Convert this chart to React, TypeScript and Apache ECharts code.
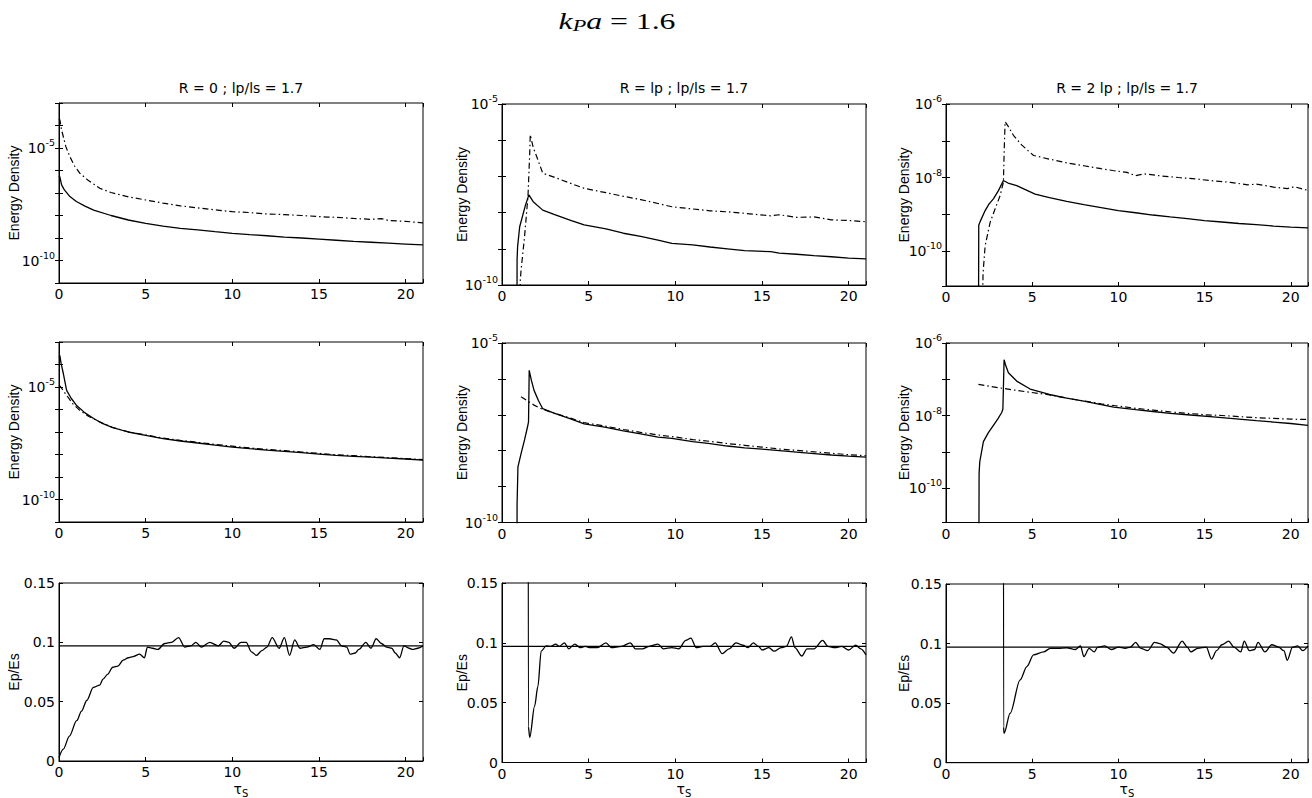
import { useEffect, useRef } from 'react';
import * as echarts from 'echarts';

// ---------------- data ----------------
const T_MAX = 21;
const X_LABEL_STEP = 5;

const MAIN_TITLE = { symbol: 'k', sub: 'P', rest: 'a', value: '1.6' };
const COL_TITLES = ['R = 0 ; lp/ls = 1.7', 'R = lp ; lp/ls = 1.7', 'R = 2 lp ; lp/ls = 1.7'];
const ENERGY_NAME = 'Energy Density';
const RATIO_NAME = 'Ep/Es';

// log-axis ranges per column and the decades that carry a label
const LOG_RANGES: [number, number][] = [[1e-11, 1e-3], [1e-10, 1e-5], [1.12e-11, 1e-6]];
const LOG_LABELS: number[][] = [[-5, -10], [-5, -10], [-6, -8, -10]];
const RATIO_MIN = 0;
const RATIO_MAX = 0.15;
const RATIO_STEP = 0.05;

// Row 1: R = 0
const R0_TOP_SOLID: [number, number][] = [
  [0, 5.8e-7], [0.05, 5.2e-7], [0.15, 2.29e-7], [0.3, 1.41e-7], [0.63, 6.92e-8], [1.0, 4.17e-8],
  [1.5, 2.63e-8], [2.0, 1.74e-8], [3, 1.0e-8], [4, 6.31e-9], [5, 4.47e-9], [6, 3.39e-9], [7, 2.69e-9],
  [8, 2.29e-9], [9, 1.91e-9], [10, 1.62e-9], [11, 1.41e-9], [12, 1.26e-9], [13, 1.1e-9], [14, 1.0e-9],
  [15, 8.91e-10], [16, 7.94e-10], [17, 7.08e-10], [18, 6.46e-10], [19, 5.89e-10], [20, 5.37e-10], [21, 4.9e-10],
];
const R0_TOP_DASH: [number, number][] = [
  [0, 2.0e-4], [0.05, 1.78e-4], [0.15, 6.31e-5], [0.25, 3.16e-5], [0.4, 1.12e-5], [0.63, 4.07e-6],
  [0.9, 1.58e-6], [1.2, 7.59e-7], [1.7, 3.55e-7], [2.35, 1.62e-7], [3, 1.05e-7], [4, 6.76e-8], [5, 4.9e-8],
  [6, 3.55e-8], [7, 2.69e-8], [8, 2.19e-8], [9, 1.78e-8], [10, 1.48e-8], [11, 1.35e-8], [12, 1.17e-8],
  [13, 1.1e-8], [14, 1.0e-8], [15.5, 8.51e-9], [16, 8.32e-9], [17, 7.41e-9], [18, 6.76e-9], [18.6, 7.24e-9],
  [19, 6.03e-9], [20, 5.5e-9], [21, 4.68e-9],
];
// Row 1: R = lp
const R1_TOP_SOLID: [number, number][] = [
  [0.86, 1e-12], [0.87, 5.01e-10], [0.9, 1.15e-9], [1.02, 4.07e-9], [1.2, 8.51e-9], [1.35, 1.58e-8],
  [1.55, 3.09e-8], [1.8, 2.0e-8], [2.35, 1.17e-8], [3, 8.91e-9], [4, 6.03e-9], [4.74, 4.57e-9], [6, 3.55e-9],
  [7, 2.69e-9], [8, 2.19e-9], [9, 1.74e-9], [9.8, 1.41e-9], [11, 1.29e-9], [12, 1.12e-9], [13, 1.0e-9],
  [14, 8.91e-10], [15.5, 8.32e-10], [16, 7.59e-10], [17, 7.08e-10], [18, 6.46e-10], [19, 6.03e-10],
  [20, 5.5e-10], [21, 5.25e-10],
];
const R1_TOP_DASH: [number, number][] = [
  [1.0, 1e-12], [1.05, 1.26e-10], [1.1, 2.57e-10], [1.3, 2.14e-9], [1.5, 2.88e-8], [1.6, 4.47e-7],
  [1.63, 1.41e-6], [1.8, 6.31e-7], [2.0, 3.55e-7], [2.35, 1.23e-7], [3, 9.55e-8], [4, 6.31e-8],
  [4.74, 4.68e-8], [6, 3.55e-8], [7, 2.82e-8], [8, 2.29e-8], [9, 1.78e-8], [9.8, 1.45e-8], [11, 1.26e-8],
  [12, 1.12e-8], [13, 1.05e-8], [14, 9.55e-9], [15.5, 8.13e-9], [16, 8.71e-9], [17, 7.41e-9], [18, 7.59e-9],
  [19, 6.31e-9], [20, 6.03e-9], [21, 5.62e-9],
];
// Row 1: R = 2 lp
const R2_TOP_SOLID: [number, number][] = [
  [1.88, 1e-13], [1.9, 5.01e-10], [1.98, 6.31e-10], [2.27, 1.26e-9], [2.5, 1.91e-9], [2.75, 2.63e-9],
  [3.05, 4.47e-9], [3.33, 8.32e-9], [3.6, 7.08e-9], [4.1, 6.03e-9], [5.17, 3.55e-9], [6, 2.82e-9],
  [7, 2.24e-9], [8, 1.82e-9], [9, 1.51e-9], [10, 1.26e-9], [11, 1.1e-9], [12, 9.55e-10], [13, 8.51e-10],
  [14, 7.59e-10], [15, 6.76e-10], [16, 6.17e-10], [17, 5.62e-10], [18, 5.25e-10], [19, 4.79e-10],
  [20, 4.47e-10], [21, 4.27e-10],
];
const R2_TOP_DASH: [number, number][] = [
  [2.06, 1e-13], [2.15, 2.51e-11], [2.27, 1.38e-10], [2.56, 6.03e-10], [2.85, 1.41e-9], [3.14, 3.24e-9],
  [3.33, 7.41e-9], [3.38, 6.31e-8], [3.43, 3.31e-7], [3.6, 2.51e-7], [3.91, 1.41e-7], [4.4, 7.59e-8],
  [5.08, 3.98e-8], [6, 3.16e-8], [7, 2.51e-8], [8, 2.09e-8], [9, 1.74e-8], [9.67, 1.55e-8], [10.5, 1.38e-8],
  [11, 1.12e-8], [11.5, 1.26e-8], [12.5, 1.1e-8], [13.5, 1.0e-8], [14.5, 9.12e-9], [15.5, 8.13e-9],
  [16.5, 7.41e-9], [17.5, 6.31e-9], [18, 6.61e-9], [19, 5.5e-9], [19.8, 5.01e-9], [20.2, 5.62e-9], [21, 4.47e-9],
];

// Row 2: R = 0
const R0_MID_SOLID: [number, number][] = [
  [0, 2.14e-4], [0.05, 2.51e-4], [0.12, 1.12e-4], [0.25, 3.98e-5], [0.44, 7.08e-6], [0.7, 3.16e-6],
  [1.0, 1.55e-6], [1.5, 7.08e-7], [2, 3.98e-7], [2.5, 2.4e-7], [3.1, 1.58e-7], [4, 1.0e-7], [5, 7.08e-8],
  [6, 5.13e-8], [7, 3.98e-8], [8, 3.24e-8], [9, 2.63e-8], [10, 2.14e-8], [11, 1.82e-8], [12, 1.58e-8],
  [13, 1.38e-8], [14, 1.2e-8], [15, 1.05e-8], [16, 9.12e-9], [17, 8.32e-9], [18, 7.59e-9], [19, 6.92e-9],
  [20, 6.31e-9], [21, 5.62e-9],
];
const R0_MID_DASH: [number, number][] = [
  [0, 1.2e-5], [0.1, 1.0e-5], [0.44, 4.27e-6], [0.8, 1.78e-6], [1.2, 9.12e-7], [1.7, 5.01e-7],
  [2.35, 2.82e-7], [3.1, 1.58e-7], [4, 1.02e-7], [5, 7.41e-8], [6, 5.37e-8], [7, 4.27e-8], [8, 3.47e-8],
  [9, 2.82e-8], [10, 2.34e-8], [11, 1.95e-8], [12, 1.7e-8], [13, 1.48e-8], [14, 1.29e-8], [15, 1.12e-8],
  [16, 9.77e-9], [17, 8.91e-9], [18, 7.94e-9], [19, 7.24e-9], [20, 6.61e-9], [21, 5.89e-9],
];
// Row 2: R = lp
const R1_MID_SOLID: [number, number][] = [
  [0.86, 1e-12], [0.87, 3.16e-10], [0.92, 3.55e-9], [1.1, 8.32e-9], [1.3, 2.0e-8], [1.47, 4.57e-8],
  [1.53, 6.31e-8], [1.57, 1.74e-6], [1.7, 8.91e-7], [1.85, 4.79e-7], [2.1, 2.51e-7], [2.35, 1.48e-7],
  [3, 1.12e-7], [4, 7.59e-8], [4.74, 5.62e-8], [6, 4.47e-8], [7, 3.55e-8], [8, 2.95e-8], [9, 2.4e-8],
  [9.8, 2.19e-8], [11, 1.78e-8], [12, 1.58e-8], [13, 1.35e-8], [14, 1.2e-8], [15, 1.1e-8], [16, 1.0e-8],
  [17, 9.12e-9], [18, 8.32e-9], [19, 7.59e-9], [20, 7.08e-9], [21, 6.61e-9],
];
const R1_MID_DASH: [number, number][] = [
  [1.1, 3.16e-7], [1.85, 1.86e-7], [2.35, 1.41e-7], [3, 1.12e-7], [4, 7.94e-8], [4.74, 6.03e-8],
  [6, 4.79e-8], [7, 3.89e-8], [8, 3.24e-8], [9, 2.75e-8], [10, 2.4e-8], [11, 2.04e-8], [12, 1.82e-8],
  [13, 1.58e-8], [14, 1.41e-8], [15, 1.26e-8], [16, 1.12e-8], [17, 1.02e-8], [18, 9.33e-9], [19, 8.51e-9],
  [20, 7.76e-9], [21, 7.24e-9],
];
// Row 2: R = 2 lp
const R2_MID_SOLID: [number, number][] = [
  [1.9, 1e-13], [1.92, 2.51e-10], [1.96, 5.37e-10], [2.17, 1.91e-9], [2.45, 3.31e-9], [2.75, 5.37e-9],
  [3.0, 7.94e-9], [3.24, 1.23e-8], [3.3, 1.51e-8], [3.37, 3.47e-7], [3.45, 2.51e-7], [3.62, 1.51e-7],
  [4.1, 8.91e-8], [4.88, 5.37e-8], [6, 3.8e-8], [7, 3.02e-8], [8, 2.51e-8], [9, 2.0e-8], [9.73, 1.7e-8],
  [11, 1.45e-8], [12, 1.29e-8], [13, 1.15e-8], [14, 1.05e-8], [15.5, 9.12e-9], [17, 7.94e-9], [18, 7.24e-9],
  [19, 6.61e-9], [20, 6.03e-9], [21, 5.37e-9],
];
const R2_MID_DASH: [number, number][] = [
  [1.88, 7.24e-8], [3, 5.89e-8], [4, 5.01e-8], [4.88, 4.37e-8], [6, 3.72e-8], [7, 3.02e-8], [8, 2.51e-8],
  [9, 2.09e-8], [10, 1.82e-8], [11, 1.58e-8], [12, 1.41e-8], [13, 1.26e-8], [14, 1.15e-8], [15, 1.05e-8],
  [16, 1.0e-8], [17, 9.33e-9], [18, 8.71e-9], [19, 8.32e-9], [20, 7.94e-9], [21, 7.76e-9],
];

// Row 3: Ep/Es ratio
const R0_RATIO: [number, number][] = [
  [0, 0.003], [0.25, 0.01], [0.6, 0.021], [1.02, 0.034], [1.3, 0.042], [1.6, 0.051], [1.98, 0.062],
  [2.35, 0.064], [2.54, 0.069], [2.8, 0.073], [3.1, 0.079], [3.4, 0.08], [3.7, 0.085], [4.0, 0.087],
  [4.27, 0.088], [4.65, 0.09], [4.93, 0.087], [5.1, 0.096], [5.4, 0.095], [5.7, 0.094], [6.1, 0.099],
  [6.48, 0.1], [6.9, 0.104], [7.25, 0.096], [7.6, 0.097], [7.9, 0.1], [8.2, 0.096], [8.7, 0.1], [9.2, 0.097],
  [9.5, 0.101], [9.8, 0.1], [10.1, 0.095], [10.5, 0.1], [10.8, 0.1], [11.1, 0.092], [11.4, 0.089],
  [11.7, 0.093], [12.0, 0.096], [12.3, 0.104], [12.7, 0.095], [13.0, 0.104], [13.3, 0.089], [13.6, 0.102],
  [13.9, 0.095], [14.3, 0.096], [14.7, 0.098], [15.05, 0.094], [15.3, 0.103], [15.6, 0.103], [16.0, 0.102],
  [16.3, 0.097], [16.6, 0.096], [16.8, 0.09], [17.1, 0.091], [17.3, 0.094], [17.7, 0.1], [18.0, 0.095],
  [18.3, 0.103], [18.6, 0.099], [18.9, 0.096], [19.2, 0.095], [19.4, 0.091], [19.65, 0.087], [19.9, 0.097],
  [20.2, 0.095], [20.4, 0.094], [20.7, 0.095], [21, 0.097],
];
const R1_RATIO: [number, number][] = [
  [1.5, 0.5], [1.52, 0.03], [1.6, 0.021], [1.88, 0.047], [2.07, 0.0635], [2.26, 0.093], [2.55, 0.0975],
  [2.8, 0.097], [3.1, 0.099], [3.3, 0.097], [3.6, 0.1], [3.85, 0.095], [4.2, 0.099], [4.5, 0.096],
  [4.8, 0.097], [5.1, 0.096], [5.5, 0.096], [6.0, 0.1], [6.3, 0.096], [6.9, 0.097], [7.4, 0.1], [7.7, 0.095],
  [8.1, 0.095], [8.5, 0.097], [9.0, 0.099], [9.3, 0.095], [9.8, 0.096], [10.2, 0.095], [10.6, 0.102],
  [10.9, 0.104], [11.2, 0.096], [11.6, 0.097], [12.0, 0.097], [12.3, 0.1], [12.7, 0.091], [13.1, 0.095],
  [13.5, 0.1], [13.9, 0.098], [14.2, 0.096], [14.5, 0.1], [14.8, 0.097], [15.0, 0.094], [15.4, 0.096],
  [15.7, 0.093], [16.1, 0.096], [16.4, 0.097], [16.7, 0.105], [16.9, 0.096], [17.3, 0.089], [17.6, 0.095],
  [18.0, 0.095], [18.5, 0.102], [18.8, 0.097], [19.2, 0.096], [19.6, 0.097], [20.0, 0.094], [20.4, 0.098],
  [20.7, 0.095], [21, 0.09],
];
const R2_RATIO: [number, number][] = [
  [3.32, 0.5], [3.34, 0.03], [3.37, 0.0247], [3.72, 0.0415], [4.3, 0.0695], [4.69, 0.0807], [5.08, 0.0905],
  [5.66, 0.093], [6.05, 0.096], [6.5, 0.096], [7.0, 0.0965], [7.5, 0.095], [7.8, 0.098], [8.0, 0.089],
  [8.3, 0.096], [8.6, 0.093], [8.8, 0.097], [9.2, 0.098], [9.6, 0.095], [10.0, 0.097], [10.4, 0.096],
  [10.7, 0.097], [11.0, 0.101], [11.3, 0.096], [11.7, 0.094], [12.1, 0.101], [12.4, 0.1], [12.8, 0.097],
  [13.2, 0.092], [13.7, 0.102], [14.0, 0.097], [14.2, 0.093], [14.6, 0.096], [15.1, 0.097], [15.4, 0.087],
  [15.7, 0.094], [16.0, 0.099], [16.4, 0.102], [16.7, 0.097], [17.1, 0.093], [17.3, 0.102], [17.6, 0.094],
  [17.9, 0.095], [18.1, 0.101], [18.5, 0.093], [18.9, 0.099], [19.3, 0.097], [19.6, 0.094], [19.8, 0.086],
  [20.1, 0.097], [20.4, 0.098], [20.7, 0.094], [21, 0.098],
];
const RATIO_LEVELS = [0.097, 0.097, 0.097];

// ---------------- layout ----------------
const COL_LEFT = [59, 502, 946];
const COL_WIDTH = [364, 364, 362];
const ROW_TOP = [[103, 104, 104], [342, 343, 343], [583, 583, 584]];
const ROW_HEIGHT = [[180, 181, 182], [180, 179.5, 179.5], [178, 179.5, 178.7]];
const YNAME_X = [13.5, 461.5, 903.5];

const TICK_FONT = 'DejaVu Sans';
const TICK_SIZE = 14;
const INK = '#000';

function buildOption() {
  const grid: any[] = [];
  const xAxis: any[] = [];
  const yAxis: any[] = [];
  const series: any[] = [];
  const graphic: any[] = [];

  const energy = [
    [R0_TOP_SOLID, R0_TOP_DASH], [R1_TOP_SOLID, R1_TOP_DASH], [R2_TOP_SOLID, R2_TOP_DASH],
    [R0_MID_SOLID, R0_MID_DASH], [R1_MID_SOLID, R1_MID_DASH], [R2_MID_SOLID, R2_MID_DASH],
  ];
  const ratios = [R0_RATIO, R1_RATIO, R2_RATIO];

  const tick = { show: true, inside: true, length: 4, lineStyle: { color: INK, width: 1 } };

  for (let row = 0; row < 3; row++) {
    for (let col = 0; col < 3; col++) {
      const i = row * 3 + col;
      const top = ROW_TOP[row][col];
      const height = ROW_HEIGHT[row][col];
      grid.push({
        left: COL_LEFT[col], top, width: COL_WIDTH[col], height,
        show: true, borderColor: INK, borderWidth: 1, backgroundColor: 'transparent',
        containLabel: false,
      });
      const xBase = {
        type: 'value', gridIndex: i, min: 0, max: T_MAX, interval: X_LABEL_STEP,
        splitLine: { show: false }, axisTick: tick,
      };
      xAxis.push({
        ...xBase, position: 'bottom',
        axisLine: { show: true, onZero: false, lineStyle: { color: INK, width: 1 } },
        axisLabel: {
          show: true, color: INK, fontFamily: TICK_FONT, fontSize: TICK_SIZE, margin: 4,
          formatter: (v: number) => (Math.abs(v % X_LABEL_STEP) < 1e-9 ? String(Math.round(v)) : ''),
        },
      });
      xAxis.push({ ...xBase, position: 'top', axisLine: { show: false, onZero: false }, axisLabel: { show: false } });

      if (row < 2) {
        const [mn, mx] = LOG_RANGES[col];
        const labels = LOG_LABELS[col];
        const yBase = {
          type: 'log', logBase: 10, gridIndex: i, min: mn, max: mx,
          splitLine: { show: false }, minorTick: { show: false }, axisTick: tick,
        };
        yAxis.push({
          ...yBase, position: 'left',
          axisLine: { show: true, lineStyle: { color: INK, width: 1 } },
          axisLabel: {
            show: true, color: INK, margin: 4, interval: 0,
            formatter: (v: number) => {
              const e = Math.log10(v);
              const r = Math.round(e);
              if (Math.abs(e - r) > 1e-6 || labels.indexOf(r) < 0) return '';
              return `{b|10}{s|${r}}`;
            },
            rich: {
              b: { fontFamily: TICK_FONT, fontSize: TICK_SIZE, color: INK },
              s: { fontFamily: TICK_FONT, fontSize: 9.5, color: INK, padding: [0, 0, 11, 0] },
            },
          },
        });
        yAxis.push({ ...yBase, position: 'right', axisLine: { show: false }, axisLabel: { show: false } });
        const [solid, dash] = energy[i];
        series.push({
          type: 'line', xAxisIndex: 2 * i, yAxisIndex: 2 * i, data: solid, symbol: 'none', showSymbol: false,
          lineStyle: { color: INK, width: 1.3, type: 'solid' }, silent: true, clip: true,
        });
        series.push({
          type: 'line', xAxisIndex: 2 * i, yAxisIndex: 2 * i, data: dash, symbol: 'none', showSymbol: false,
          lineStyle: { color: INK, width: 1.2, type: [6, 3, 1.5, 3] }, silent: true, clip: true,
        });
        graphic.push({
          type: 'text', x: YNAME_X[col], y: top + height / 2, rotation: Math.PI / 2, silent: true,
          style: { text: ENERGY_NAME, fontFamily: 'Liberation Sans', fontSize: 14, fill: INK, align: 'center', verticalAlign: 'middle' },
        });
      } else {
        const yBase = {
          type: 'value', gridIndex: i, min: RATIO_MIN, max: RATIO_MAX, interval: RATIO_STEP,
          splitLine: { show: false }, axisTick: tick,
        };
        yAxis.push({
          ...yBase, position: 'left',
          axisLine: { show: true, onZero: false, lineStyle: { color: INK, width: 1 } },
          axisLabel: { show: true, color: INK, fontFamily: TICK_FONT, fontSize: TICK_SIZE, margin: 4 },
        });
        yAxis.push({ ...yBase, position: 'right', axisLine: { show: false, onZero: false }, axisLabel: { show: false } });
        series.push({
          type: 'line', xAxisIndex: 2 * i, yAxisIndex: 2 * i,
          data: [[0, RATIO_LEVELS[col]], [T_MAX, RATIO_LEVELS[col]]], symbol: 'none', showSymbol: false,
          lineStyle: { color: INK, width: 1.1 }, silent: true, clip: true,
        });
        series.push({
          type: 'line', xAxisIndex: 2 * i, yAxisIndex: 2 * i, data: ratios[col], symbol: 'none', showSymbol: false,
          smooth: 0.3, smoothMonotone: 'x',
          lineStyle: { color: INK, width: 1.3 }, silent: true, clip: true,
        });
        graphic.push({
          type: 'text', x: YNAME_X[col], y: top + height / 2, rotation: Math.PI / 2, silent: true,
          style: { text: RATIO_NAME, fontFamily: 'Liberation Sans', fontSize: 14, fill: INK, align: 'center', verticalAlign: 'middle' },
        });
        graphic.push({
          type: 'text', x: COL_LEFT[col] + COL_WIDTH[col] / 2, y: 789, silent: true,
          style: {
            text: '{t|τ}{s|S}', align: 'center', verticalAlign: 'middle',
            rich: {
              t: { fontFamily: 'DejaVu Sans', fontSize: 14, color: INK },
              s: { fontFamily: 'DejaVu Sans', fontSize: 10, color: INK, padding: [8, 0, 0, 0] },
            },
          },
        });
      }
      if (row === 0) {
        graphic.push({
          type: 'text', x: COL_LEFT[col] + COL_WIDTH[col] / 2, y: 88, silent: true,
          style: { text: COL_TITLES[col], fontFamily: 'DejaVu Sans', fontSize: 14, fill: INK, align: 'center', verticalAlign: 'middle' },
        });
      }
    }
  }

  graphic.push({
    type: 'text', x: 617, y: 21, scaleX: 1.38, silent: true,
    style: {
      text: `{i|${MAIN_TITLE.symbol}}{sub|${MAIN_TITLE.sub}}{i|${MAIN_TITLE.rest}}{n| = ${MAIN_TITLE.value}}`,
      align: 'center', verticalAlign: 'middle',
      rich: {
        i: { fontFamily: 'Liberation Serif', fontStyle: 'italic', fontSize: 23, color: INK },
        sub: { fontFamily: 'Liberation Serif', fontStyle: 'italic', fontSize: 16, color: INK, padding: [10, 0, 0, 0] },
        n: { fontFamily: 'Liberation Serif', fontSize: 23, color: INK },
      },
    },
  });

  return { animation: false, backgroundColor: '#fff', grid, xAxis, yAxis, series, graphic };
}

export default function App() {
  const ref = useRef<HTMLDivElement>(null);
  useEffect(() => {
    if (!ref.current) return;
    const chart = echarts.init(ref.current, undefined, { renderer: 'svg' });
    chart.setOption(buildOption() as any);
    return () => chart.dispose();
  }, []);
  return (
    <div
      ref={ref}
      style={{ position: 'fixed', left: 0, top: 0, width: 1312, height: 798, background: '#fff' }}
    />
  );
}
